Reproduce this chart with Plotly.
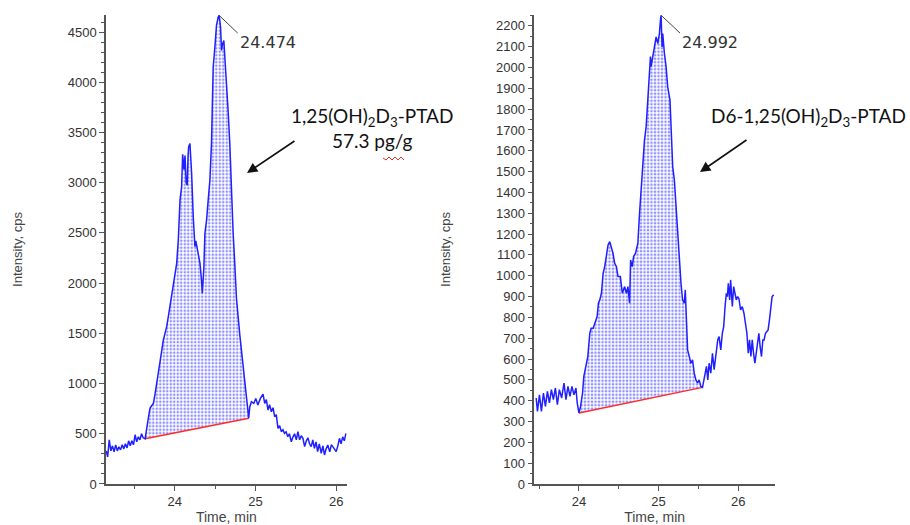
import plotly.graph_objects as go

# ---------------- data ----------------
# Left chromatogram: 1,25(OH)2D3-PTAD
left_time = [
    23.152, 23.17, 23.19, 23.21, 23.23, 23.25, 23.27, 23.29, 23.31, 23.33,
    23.35, 23.37, 23.39, 23.41, 23.43, 23.45, 23.47, 23.49, 23.51, 23.53,
    23.55, 23.57, 23.59, 23.61, 23.634,
    23.654, 23.675, 23.695, 23.716, 23.737, 23.758, 23.778, 23.80, 23.819, 23.84,
    23.86, 23.88, 23.901, 23.92, 23.942, 23.96, 23.984, 24.004, 24.025, 24.045,
    24.066, 24.086, 24.099, 24.115, 24.128, 24.142, 24.156, 24.165, 24.173, 24.189,
    24.20, 24.21, 24.23, 24.251, 24.262, 24.272, 24.292, 24.313, 24.33, 24.342,
    24.35, 24.362, 24.374, 24.395, 24.415, 24.436, 24.456, 24.477, 24.498, 24.518,
    24.539, 24.551, 24.568, 24.58, 24.592, 24.609, 24.621, 24.642, 24.663, 24.683,
    24.704, 24.724, 24.745, 24.765, 24.807, 24.848, 24.889, 24.91, 24.917,
    24.93, 24.95, 24.98, 25.004, 25.03, 25.06, 25.094, 25.115, 25.135, 25.156,
    25.175, 25.197, 25.218, 25.238, 25.258, 25.279, 25.30, 25.32, 25.34, 25.36,
    25.38, 25.40, 25.42, 25.444, 25.465, 25.485, 25.506, 25.526, 25.547, 25.567,
    25.588, 25.609, 25.63, 25.65, 25.67, 25.69, 25.71, 25.73, 25.75, 25.77,
    25.79, 25.815, 25.835, 25.855, 25.875, 25.896, 25.92, 25.94, 25.958, 25.98,
    26.0, 26.02, 26.04, 26.06, 26.08, 26.10, 26.12,
]
left_intensity = [
    330, 270, 440, 330, 380, 320, 390, 330, 370, 340,
    390, 350, 400, 360, 430, 380, 430, 390, 490, 420,
    470, 440, 500, 460, 450,
    573, 660, 756, 780, 805, 900, 1004, 1120, 1236, 1330,
    1435, 1500, 1567, 1660, 1766, 1880, 1965, 2065, 2197, 2429,
    2827, 2959, 3284, 3130, 3270, 3000, 2976, 3250, 3357, 3390,
    3250, 3092, 2661, 2363, 2420, 2380, 2263, 2200, 2050, 1899,
    2000, 2164, 2495, 2628, 2827, 3026, 3390, 4152, 4351, 4566,
    4649, 4666, 4550, 4318, 4380, 4417, 4252, 4020, 3700, 3380,
    2900, 2500, 2180, 1850, 1480, 1170, 872, 706, 655,
    769, 819, 802, 852, 786, 850, 895, 802, 840, 736,
    790, 720, 760, 670, 690, 554, 580, 521, 540, 504,
    520, 471, 500, 421, 470, 500, 440, 521, 440, 480,
    455, 372, 430, 460, 400, 372, 438, 355, 420, 322,
    400, 306, 380, 289, 350, 388, 320, 390, 372, 340,
    322, 380, 455, 400, 470, 430, 504,
]
left_integration = [23.634, 24.917]   # start / end of integrated peak
left_peak_label = "24.474"
left_peak_time = 24.551
left_peak_value = 4666

# Right chromatogram: D6-1,25(OH)2D3-PTAD
right_time = [
    23.464, 23.48, 23.505, 23.53, 23.555, 23.58, 23.605, 23.63, 23.655, 23.68,
    23.705, 23.73, 23.755, 23.784, 23.813, 23.838, 23.863, 23.888, 23.913, 23.938,
    23.963, 23.979, 24.0,
    24.021, 24.046, 24.062, 24.087, 24.112, 24.137, 24.154, 24.179, 24.204, 24.229,
    24.245, 24.262, 24.283, 24.304, 24.324, 24.345, 24.366, 24.387, 24.407, 24.428,
    24.449, 24.47, 24.491, 24.52, 24.545, 24.574, 24.595, 24.615, 24.636, 24.649,
    24.669, 24.686, 24.711, 24.74, 24.761, 24.782, 24.802, 24.823, 24.844, 24.865,
    24.886, 24.898, 24.906, 24.927, 24.948, 24.969, 24.99, 25.01, 25.023, 25.031,
    25.044, 25.052, 25.073, 25.094, 25.114, 25.127, 25.143, 25.16, 25.177, 25.198,
    25.218, 25.239, 25.26, 25.281, 25.301, 25.322, 25.335, 25.351, 25.364, 25.385,
    25.405, 25.426, 25.447, 25.468, 25.489, 25.509, 25.53, 25.551,
    25.563, 25.584, 25.601, 25.617, 25.634, 25.655, 25.676, 25.697, 25.709, 25.726,
    25.742, 25.759, 25.78, 25.8, 25.817, 25.834, 25.85, 25.863, 25.875, 25.892,
    25.904, 25.925, 25.942, 25.958, 25.975, 25.992, 26.008, 26.029, 26.05, 26.071,
    26.091, 26.108, 26.125, 26.141, 26.158, 26.175, 26.191, 26.208, 26.225, 26.241,
    26.258, 26.274, 26.291, 26.308, 26.324, 26.341, 26.358, 26.374, 26.391, 26.408,
    26.424, 26.445,
]
right_intensity = [
    413, 349, 428, 349, 437, 373, 445, 389, 453, 405,
    461, 381, 453, 413, 485, 405, 469, 421, 469, 428,
    461, 389, 341,
    373, 437, 517, 565, 612, 724, 748, 748, 772, 804,
    868, 884, 916, 1012, 1044, 1108, 1148, 1164, 1140, 1108,
    1060, 1044, 996, 996, 916, 948, 916, 948, 868, 1076,
    1044, 1092, 1108, 1156, 1300, 1428, 1556, 1652, 1716, 1844,
    1956, 2052, 2004, 2052, 2115, 2147, 2115, 2163, 2227, 2251,
    2099, 2163, 2067, 2004, 1908, 1876, 1844, 1684, 1524, 1460,
    1332, 1172, 1044, 964, 884, 868, 932, 788, 644, 612,
    580, 596, 532, 500, 485, 500, 469, 464,
    485, 525, 565, 500, 580, 532, 628, 549, 596, 628,
    692, 708, 644, 724, 756, 852, 916, 900, 964, 884,
    980, 852, 948, 916, 884, 900, 890, 836, 852, 820,
    772, 724, 628, 692, 612, 692, 628, 580, 628, 676,
    724, 660, 612, 692, 692, 724, 732, 740, 788, 852,
    900, 908,
]
right_integration = [24.0, 25.551]
right_peak_label = "24.992"
right_peak_time = 25.031
right_peak_value = 2251

left_compound = "1,25(OH)<sub>2</sub>D<sub>3</sub>-PTAD<br>57.3 pg/g"
right_compound = "D6-1,25(OH)<sub>2</sub>D<sub>3</sub>-PTAD"

# ---------------- styling ----------------
BLUE = "#1f1fff"
RED = "#ff2a2a"
AXIS = "#555555"
TICKFONT = dict(family="Arial, Liberation Sans, sans-serif", size=13, color="#333333")
YTITLEFONT = dict(family="Arial, Liberation Sans, sans-serif", size=13, color="#444444")
XTITLEFONT = dict(family="Arial, Liberation Sans, sans-serif", size=14, color="#444444")

fig = go.Figure()


def add_panel(t, v, integ, xa, ya):
    seg_t = [a for a in t if integ[0] <= a <= integ[1]]
    seg_v = [b for a, b in zip(t, v) if integ[0] <= a <= integ[1]]
    # dotted integrated area (closed back along the straight baseline)
    fig.add_trace(go.Scatter(
        x=seg_t, y=seg_v, xaxis=xa, yaxis=ya, mode="lines",
        line=dict(width=0, color=BLUE), fill="toself", fillcolor="rgba(0,0,0,0)",
        fillpattern=dict(shape=".", fgcolor=BLUE, bgcolor="white", size=3.5, solidity=0.42),
        hoverinfo="skip", showlegend=False))
    # baseline
    bt = [seg_t[0], seg_t[-1]]
    bv = [seg_v[0], seg_v[-1]]
    fig.add_trace(go.Scatter(x=bt, y=bv, xaxis=xa, yaxis=ya, mode="lines",
                             line=dict(color=RED, width=1.5), showlegend=False))
    # chromatogram
    fig.add_trace(go.Scatter(x=t, y=v, xaxis=xa, yaxis=ya, mode="lines",
                             line=dict(color=BLUE, width=1.5), showlegend=False))


add_panel(left_time, left_intensity, left_integration, "x", "y")
add_panel(right_time, right_intensity, right_integration, "x2", "y2")

ydom = [0.0781, 0.9714]
common_x = dict(
    showline=True, linecolor=AXIS, linewidth=1.5, ticks="outside", ticklen=5,
    tickcolor=AXIS, tickwidth=1.2, showgrid=False, zeroline=False, automargin=False,
    tickvals=[24, 25, 26], tickfont=TICKFONT,
    title=dict(text="Time, min", font=XTITLEFONT, standoff=3),
    minor=dict(tickvals=[23.5, 24.5, 25.5], ticks="outside", ticklen=3,
               tickcolor=AXIS, showgrid=False),
)
common_y = dict(
    showline=True, linecolor=AXIS, linewidth=1.5, ticks="outside", ticklen=5,
    tickcolor=AXIS, tickwidth=1.2, showgrid=False, zeroline=False, automargin=False,
    tickfont=TICKFONT, domain=ydom,
    title=dict(text="Intensity, cps", font=YTITLEFONT, standoff=42),
)

fig.update_layout(
    width=910, height=525, margin=dict(l=0, r=0, t=0, b=0, autoexpand=False),
    paper_bgcolor="white", plot_bgcolor="white", showlegend=False,
    xaxis=dict(common_x, domain=[0.1165, 0.381], range=[23.15, 26.13], anchor="y"),
    yaxis=dict(common_y, range=[0, 4670], dtick=500,
               minor=dict(dtick=100, ticks="outside", ticklen=3, tickcolor=AXIS, showgrid=False),
               anchor="x"),
    xaxis2=dict(common_x, domain=[0.5871, 0.8516], range=[23.44, 26.46], anchor="y2"),
    yaxis2=dict(common_y, range=[0, 2252], dtick=100,
                minor=dict(dtick=50, ticks="outside", ticklen=3, tickcolor=AXIS, showgrid=False),
                anchor="x2"),
)

# peak retention-time labels with leader lines
PEAKFONT = dict(family="DejaVu Sans, sans-serif", size=16, color="#333333")
fig.add_shape(type="line", xref="x", yref="y", x0=left_peak_time, y0=left_peak_value,
              x1=24.78, y1=4490, line=dict(color="#444444", width=1))
fig.add_annotation(xref="x", yref="y", x=24.79, y=4398, text=left_peak_label,
                   showarrow=False, xanchor="left", yanchor="middle", font=PEAKFONT)
fig.add_shape(type="line", xref="x2", yref="y2", x0=right_peak_time, y0=right_peak_value,
              x1=25.27, y1=2165, line=dict(color="#444444", width=1))
fig.add_annotation(xref="x2", yref="y2", x=25.27, y=2122, text=right_peak_label,
                   showarrow=False, xanchor="left", yanchor="middle", font=PEAKFONT)

# compound labels and arrows
BIGFONT = dict(family="Lato, Open Sans, sans-serif", size=19, color="#111111")
W, H = 910.0, 525.0
fig.add_annotation(xref="paper", yref="paper", x=372 / W, y=1 - 128 / H,
                   text=left_compound, showarrow=False, xanchor="center",
                   yanchor="middle", align="center", font=BIGFONT)
fig.add_annotation(xref="paper", yref="paper", x=908 / W, y=1 - 117 / H,
                   text=right_compound, showarrow=False, xanchor="right",
                   yanchor="middle", font=BIGFONT)
fig.add_annotation(xref="paper", yref="paper", x=247 / W, y=1 - 173 / H, text="",
                   showarrow=True, ax=49, ay=-33, arrowhead=2, arrowsize=1.3,
                   arrowwidth=1.6, arrowcolor="#111111")
fig.add_annotation(xref="paper", yref="paper", x=700 / W, y=1 - 172 / H, text="",
                   showarrow=True, ax=48, ay=-33, arrowhead=2, arrowsize=1.3,
                   arrowwidth=1.6, arrowcolor="#111111")

# red spell-check squiggle under "pg/g"
sq = "M {} {}".format(383 / W, 1 - 158 / H)
xs = [386, 389, 392, 395, 398, 401, 404]
for i, xv in enumerate(xs):
    yv = 160 if i % 2 == 0 else 157
    sq += " L {} {}".format(xv / W, 1 - yv / H)
fig.add_shape(type="path", xref="paper", yref="paper", path=sq,
              line=dict(color="#e03030", width=1))

fig.write_html("out.html", config={"displayModeBar": False},
               post_script="document.body.style.margin='0px';")
